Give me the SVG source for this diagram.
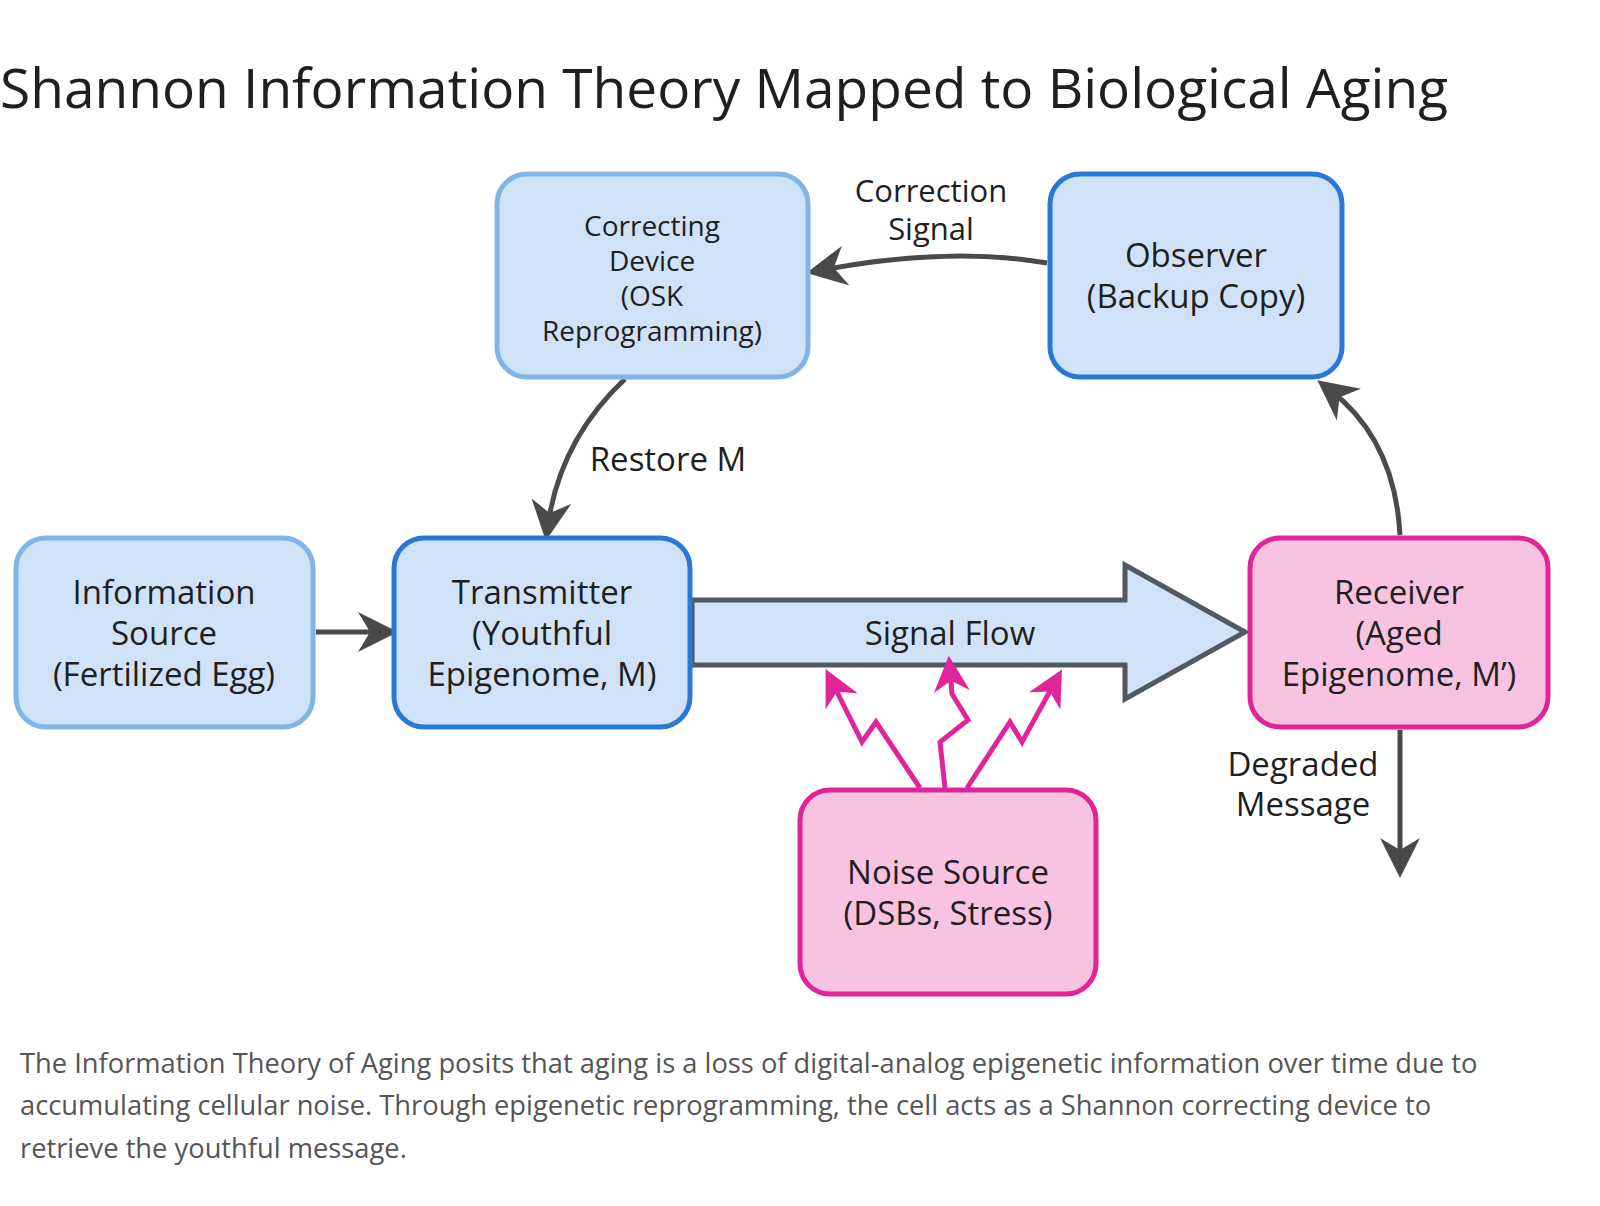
<svg xmlns="http://www.w3.org/2000/svg" width="1600" height="1206" viewBox="0 0 1600 1206">
<style>
text{font-family:"Open Sans","Liberation Sans",sans-serif;fill:#1f1f1f}
.lbl{font-size:33px;text-anchor:middle}
.sm{font-size:28px}
.md{font-size:31px}
.blue{fill:#cfe2f7;stroke-width:5}
.lt{stroke:#7fb5ea}
.dk{stroke:#2a78d6}
.pink{fill:#f7c3e0;stroke:#e0249a;stroke-width:5}
.con{fill:none;stroke:#4a4a4a;stroke-width:5}
.zap{fill:none;stroke:#e0249a;stroke-width:5;stroke-linejoin:miter}
.cap{font-size:27.3px;fill:#555}
</style>
<defs>
<marker id="ah2" viewBox="0 0 10 10" refX="6" refY="5" markerWidth="40" markerHeight="40" orient="auto" markerUnits="userSpaceOnUse"><path d="M0,0 L10,5 L0,10 L3,5 Z" fill="#4a4a4a"/></marker>
<marker id="zh" viewBox="0 0 10 10" refX="6" refY="5" markerWidth="36" markerHeight="36" orient="auto" markerUnits="userSpaceOnUse"><path d="M0,0 L10,5 L0,10 L3,5 Z" fill="#e0249a"/></marker>
</defs>
<rect width="1600" height="1206" fill="#fff"/>
<text x="0" y="108" style="font-size:55px">Shannon Information Theory Mapped to Biological Aging</text>

<g id="connectors">
<path class="con" d="M692,600 H1125 V565 L1245,632 L1125,699 V665 H692 Z" style="fill:#cfe2f7;stroke:#505860"/>
<text class="lbl" x="950" y="645">Signal Flow</text>
<path class="con" d="M316,632 H382" marker-end="url(#ah2)"/>
<path class="con" d="M1047,263 Q950,246 822,270" marker-end="url(#ah2)"/>
<path class="con" d="M625,379 Q560,440 548,525" marker-end="url(#ah2)"/>
<path class="con" d="M1400,535 Q1395,440 1330,390" marker-end="url(#ah2)"/>
<path class="con" d="M1400,730 V862" marker-end="url(#ah2)"/>
<path class="zap" d="M920,788 L876,722 L862,742 L832,682" marker-end="url(#zh)"/>
<path class="zap" d="M945,788 L940,742 L968,720 L952,694 L950,670" marker-end="url(#zh)"/>
<path class="zap" d="M967,788 L1010,722 L1022,742 L1055,682" marker-end="url(#zh)"/>
<text class="lbl md" x="931" y="202">Correction</text>
<text class="lbl md" x="931" y="240">Signal</text>
<text class="lbl" x="668" y="471">Restore M</text>
<text class="lbl" x="1303" y="776">Degraded</text>
<text class="lbl" x="1303" y="816">Message</text>
</g>

<g id="correcting"><rect class="blue lt" x="497" y="174" width="311" height="203" rx="30"/>
<text class="lbl sm" x="652" y="236">Correcting</text><text class="lbl sm" x="652" y="271">Device</text><text class="lbl sm" x="652" y="306">(OSK</text><text class="lbl sm" x="652" y="341">Reprogramming)</text></g>
<g id="observer"><rect class="blue dk" x="1050" y="174" width="292" height="203" rx="30"/>
<text class="lbl" x="1196" y="267">Observer</text><text class="lbl" x="1196" y="308">(Backup Copy)</text></g>
<g id="source"><rect class="blue lt" x="16" y="538" width="297" height="189" rx="30"/>
<text class="lbl" x="164" y="604">Information</text><text class="lbl" x="164" y="645">Source</text><text class="lbl" x="164" y="686">(Fertilized Egg)</text></g>
<g id="transmitter"><rect class="blue dk" x="394" y="538" width="296" height="189" rx="30"/>
<text class="lbl" x="542" y="604">Transmitter</text><text class="lbl" x="542" y="645">(Youthful</text><text class="lbl" x="542" y="686">Epigenome, M)</text></g>
<g id="receiver"><rect class="pink" x="1250" y="538" width="298" height="189" rx="30"/>
<text class="lbl" x="1399" y="604">Receiver</text><text class="lbl" x="1399" y="645">(Aged</text><text class="lbl" x="1399" y="686">Epigenome, M’)</text></g>
<g id="noise"><rect class="pink" x="800" y="790" width="296" height="204" rx="30"/>
<text class="lbl" x="948" y="884">Noise Source</text><text class="lbl" x="948" y="925">(DSBs, Stress)</text></g>

<text class="cap" x="20" y="1073">The Information Theory of Aging posits that aging is a loss of digital-analog epigenetic information over time due to</text>
<text class="cap" x="20" y="1115">accumulating cellular noise. Through epigenetic reprogramming, the cell acts as a Shannon correcting device to</text>
<text class="cap" x="20" y="1158">retrieve the youthful message.</text>
</svg>
